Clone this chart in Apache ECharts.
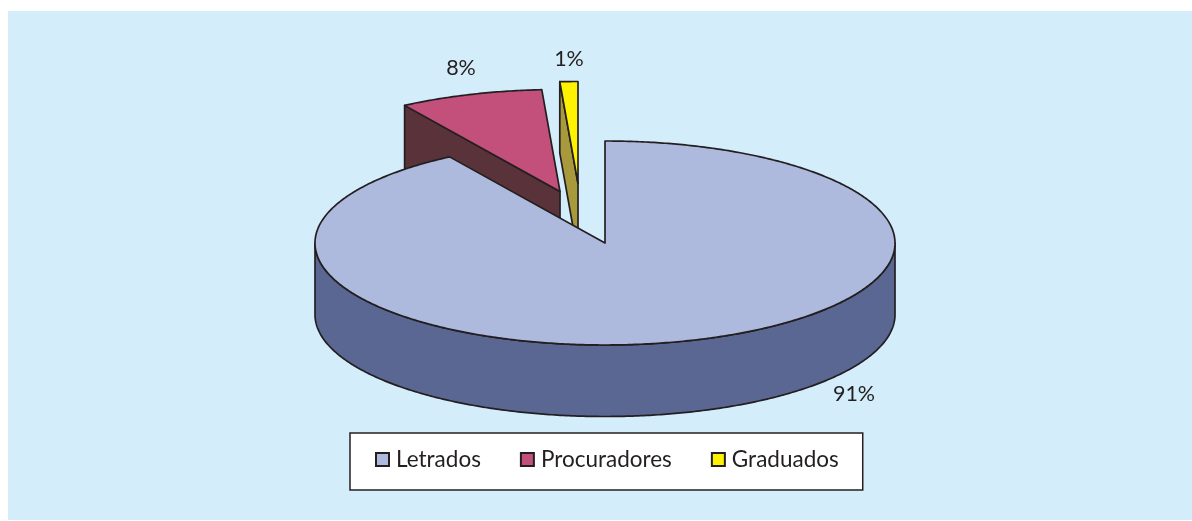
<!DOCTYPE html>
<html><head><meta charset="utf-8">
<style>html,body{margin:0;padding:0;background:#fff}#c{width:1192px;height:521px}</style>
<script src="https://cdn.jsdelivr.net/npm/echarts@6/dist/echarts.min.js"></script>
</head><body><div id="c"></div>
<script>
const categories = ['Letrados', 'Procuradores', 'Graduados'];
const shares = [91, 8, 1];
const percentLabels = ['91%', '8%', '1%'];

const topColors = ['#adb9dd', '#c34f7b', '#fff200'];
const sideColors = ['#5a6793', '#5a3239', '#a89a3c'];
const drawZ = [5, 3, 2];
const explodeOffsets = [[0, 0], [-45, -51.5], [-27, -59.5]];
const labelPositions = [[854, 394], [461, 68], [569, 59]];
const centre = [605, 243], rx = 290, ry = 102, depth = 71.5;
const ink = '#231f20', stroke = 1.7;

const total = shares.reduce((a, b) => a + b, 0);
const startAngle = i => shares.slice(0, i).reduce((a, b) => a + b, 0) / total * 2 * Math.PI;
function arcPoints(a0, a1, cx, cy) {
  const n = Math.max(2, Math.ceil((a1 - a0) / 0.01)), pts = [];
  for (let k = 0; k <= n; k++) {
    const a = a0 + (a1 - a0) * k / n;
    pts.push([cx + rx * Math.sin(a), cy - ry * Math.cos(a)]);
  }
  return pts;
}
const line = { stroke: ink, lineWidth: stroke, lineJoin: 'round' };
function renderSlice(i) {
  return function (params, api) {
    const value = api.value(0);
    const a0 = startAngle(i), a1 = a0 + value / total * 2 * Math.PI;
    const cx = centre[0] + explodeOffsets[i][0], cy = centre[1] + explodeOffsets[i][1];
    const children = [];
    const side = { fill: sideColors[i], ...line };
    if (i > 0) {
      const p = arcPoints(a0, a0, cx, cy)[0];
      children.push({ type: 'polygon', shape: { points: [p, [cx, cy], [cx, cy + depth], [p[0], p[1] + depth]] }, style: side });
    }
    const r0 = Math.max(a0, Math.PI / 2), r1 = Math.min(a1, 3 * Math.PI / 2);
    if (r1 > r0) {
      const upper = arcPoints(r0, r1, cx, cy);
      const lower = arcPoints(r0, r1, cx, cy + depth).reverse();
      children.push({ type: 'polygon', shape: { points: upper.concat(lower) }, style: side });
    }
    const arc = arcPoints(a0, a1, cx, cy);
    children.push({ type: 'polygon', shape: { points: [[cx, cy]].concat(arc) }, style: { fill: topColors[i], ...line } });
    children.push({
      type: 'text',
      style: { text: percentLabels[i], x: labelPositions[i][0], y: labelPositions[i][1], align: 'center', verticalAlign: 'middle',
        fill: ink, font: '21.5px Lato' }
    });
    return { type: 'group', children };
  };
}
const series = categories.map((name, i) => ({
  type: 'custom', name, z: drawZ[i], coordinateSystem: 'none',
  data: [[shares[i]]], encode: { value: 0 },
  itemStyle: { color: topColors[i], borderColor: ink, borderWidth: 1.5 },
  renderItem: renderSlice(i), animation: false, silent: true
}));
const chart = echarts.init(document.getElementById('c'), null, { renderer: 'canvas' });
chart.setOption({
  animation: false,
  backgroundColor: '#ffffff',
  graphic: [{ type: 'rect', z: -10, shape: { x: 8, y: 11, width: 1184, height: 509 }, style: { fill: '#d4edfb' } }],
  legend: {
    data: categories, left: 350, top: 433, orient: 'horizontal', icon: 'rect',
    itemWidth: 13, itemHeight: 13, itemGap: 39,
    padding: [15, 24, 19, 25],
    backgroundColor: '#ffffff', borderColor: ink, borderWidth: 1.5,
    textStyle: { fontFamily: 'Lato', fontSize: 22.5, color: ink, padding: [0, 0, 0, 2] },
    selectedMode: false
  },
  series
});
</script></body></html>
